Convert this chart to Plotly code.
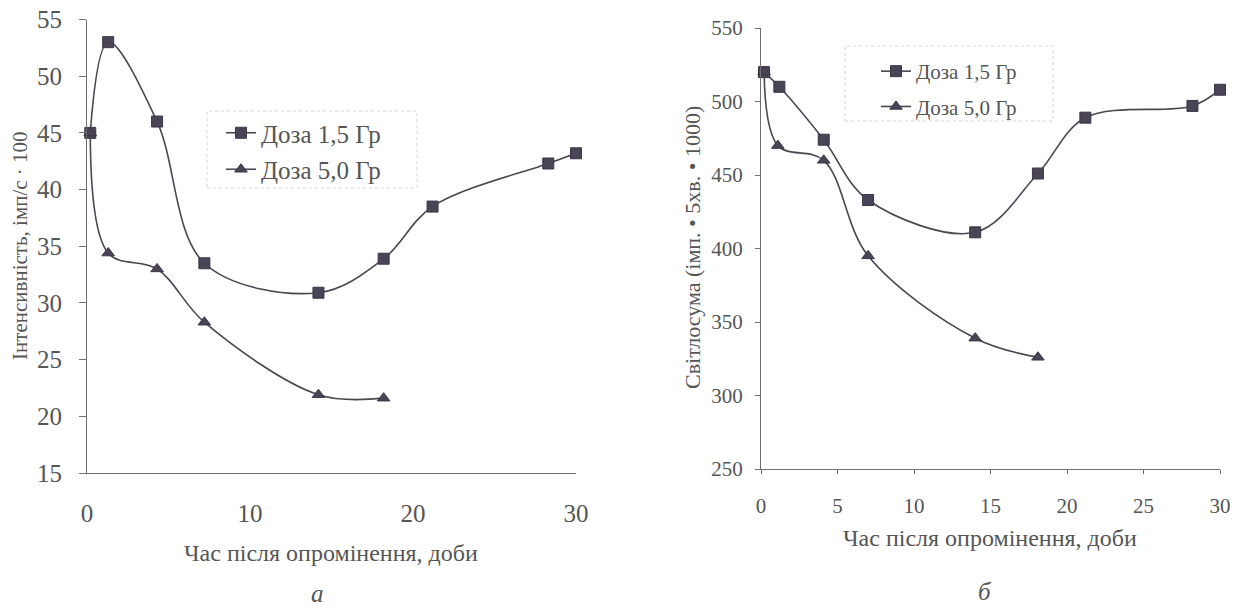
import plotly.graph_objects as go

# Chart a: intensity (imp/s * 100) vs days after irradiation
a_x15 = [0.2, 1.3, 4.3, 7.2, 14.2, 18.2, 21.2, 28.3, 30]
a_y15 = [45, 53, 46, 33.5, 30.9, 33.9, 38.5, 42.3, 43.2]
a_x50 = [0.2, 1.3, 4.3, 7.2, 14.2, 18.2]
a_y50 = [45, 34.4, 33.0, 28.3, 21.9, 21.6]

# Chart b: light sum (imp * 5 min * 1000) vs days after irradiation
b_x15 = [0.2, 1.2, 4.1, 7.0, 14.0, 18.1, 21.2, 28.2, 30]
b_y15 = [520, 510, 474, 433, 411, 451, 489, 497, 508]
b_x50 = [0.2, 1.1, 4.1, 7.0, 14.0, 18.1]
b_y50 = [520, 470, 460, 395, 339, 326]

names = ["Доза 1,5 Гр", "Доза 5,0 Гр"]
a_ticks_x = [0, 10, 20, 30]
a_ticks_y = [15, 20, 25, 30, 35, 40, 45, 50, 55]
b_ticks_x = [0, 5, 10, 15, 20, 25, 30]
b_ticks_y = [250, 300, 350, 400, 450, 500, 550]

LINE = "#4a4652"
MARK = "#4a4457"
TXT = "#555555"
AX = "#707070"
FONT = "Liberation Serif"

W, H = 1235, 611

fig = go.Figure()


def add(x, y, name, sym, size, xa, ya, leg, grp):
    fig.add_trace(go.Scatter(
        x=x, y=y, name=name, mode="lines+markers",
        line=dict(color=LINE, width=1.6, shape="spline", smoothing=1.0),
        marker=dict(symbol=sym, size=size, color=MARK, line=dict(color="#3c3646", width=1)),
        xaxis=xa, yaxis=ya, legend=leg, legendgroup=grp, cliponaxis=False))


add(a_x15, a_y15, names[0], "square", 11, "x", "y", "legend", "a1")
add(a_x50, a_y50, names[1], "triangle-up", 11, "x", "y", "legend", "a2")
add(b_x15, b_y15, names[0], "square", 11, "x2", "y2", "legend2", "b1")
add(b_x50, b_y50, names[1], "triangle-up", 11, "x2", "y2", "legend2", "b2")


def px_x(p):
    return p / W


def px_y(p):
    return 1 - p / H


axcommon = dict(showgrid=False, zeroline=False, showline=True, linecolor=AX,
                linewidth=1, tickcolor=AX, color=TXT, automargin=False,
                ticklabeloverflow="allow")

fig.update_layout(
    template="none",
    width=W, height=H,
    margin=dict(l=0, r=0, t=0, b=0),
    paper_bgcolor="white", plot_bgcolor="white",
    font=dict(family=FONT, color=TXT),
    xaxis=dict(domain=[px_x(87), px_x(576)], range=[0, 30], anchor="y",
               tickvals=a_ticks_x, ticks="", ticklabelstandoff=18,
               tickfont=dict(size=25, family=FONT, color=TXT), **axcommon),
    yaxis=dict(domain=[px_y(473), px_y(19.5)], range=[15, 55], anchor="x",
               tickvals=a_ticks_y, ticks="outside", ticklen=7, ticklabelstandoff=12,
               tickfont=dict(size=25, family=FONT, color=TXT), **axcommon),
    xaxis2=dict(domain=[px_x(761), px_x(1220)], range=[0, 30], anchor="y2",
                tickvals=b_ticks_x, ticks="outside", ticklen=4, ticklabelstandoff=14,
                tickfont=dict(size=21, family=FONT, color=TXT), **axcommon),
    yaxis2=dict(domain=[px_y(469), px_y(28)], range=[250, 550], anchor="x2",
                tickvals=b_ticks_y, ticks="outside", ticklen=5, ticklabelstandoff=8,
                tickfont=dict(size=21, family=FONT, color=TXT), **axcommon),
    legend=dict(x=px_x(221), y=px_y(110), xanchor="left", yanchor="top",
                bgcolor="rgba(255,255,255,0)", borderwidth=0, tracegroupgap=1,
                font=dict(size=25, family=FONT, color=TXT)),
    legend2=dict(x=px_x(876), y=px_y(51), xanchor="left", yanchor="top",
                 bgcolor="rgba(255,255,255,0)", borderwidth=0, tracegroupgap=5,
                 font=dict(size=21, family=FONT, color=TXT)),
    showlegend=True,
)

# faint dotted legend frames
for (x0, y0, x1, y1) in [(207, 111, 417, 188), (845, 46, 1053, 121)]:
    fig.add_shape(type="rect", xref="paper", yref="paper",
                  x0=px_x(x0), x1=px_x(x1), y0=px_y(y1), y1=px_y(y0),
                  line=dict(color="#d4d4d4", width=1, dash="dot"), fillcolor="rgba(0,0,0,0)")

anns = [
    dict(text="Час після опромінення, доби", x=331, y=553, size=24),
    dict(text="Час після опромінення, доби", x=990, y=538, size=24),
    dict(text="<i>а</i>", x=318, y=593, size=25),
    dict(text="<i>б</i>", x=985, y=591, size=25),
]
for a in anns:
    fig.add_annotation(text=a["text"], x=px_x(a["x"]), y=px_y(a["y"]), xref="paper", yref="paper",
                       showarrow=False, xanchor="center", yanchor="middle",
                       font=dict(size=a["size"], family=FONT, color=TXT))

fig.add_annotation(text="Інтенсивність, імп/с · 100", x=px_x(20), y=px_y(246),
                   xref="paper", yref="paper", showarrow=False, textangle=-90,
                   xanchor="center", yanchor="middle",
                   font=dict(size=21, family=FONT, color=TXT))
fig.add_annotation(text="Світлосума (імп. • 5хв. • 1000)", x=px_x(692), y=px_y(248),
                   xref="paper", yref="paper", showarrow=False, textangle=-90,
                   xanchor="center", yanchor="middle",
                   font=dict(size=22, family=FONT, color=TXT))

fig.write_html(
    "out.html",
    config={"displayModeBar": False},
    post_script="document.body.style.margin='0';document.body.style.overflow='hidden';",
)
